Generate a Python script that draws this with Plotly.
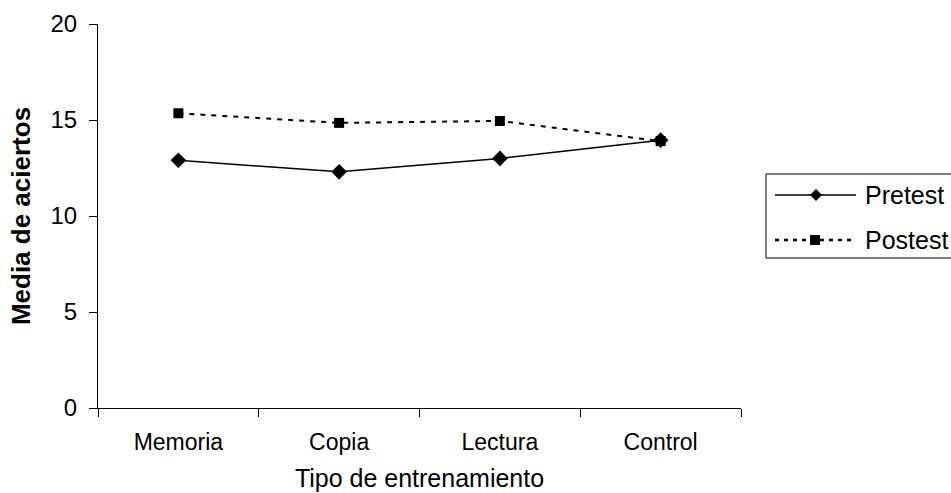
import plotly.graph_objects as go

# Mean correct answers per training type, before and after training
categories = ["Memoria", "Copia", "Lectura", "Control"]
pretest = [12.9, 12.3, 13.0, 13.95]
postest = [15.35, 14.85, 14.95, 13.9]
y_ticks = [0, 5, 10, 15, 20]

FONT = "Liberation Sans, Arial, sans-serif"

fig = go.Figure()
fig.add_trace(go.Scatter(
    x=categories, y=pretest, name="Pretest", mode="lines+markers",
    line=dict(color="black", width=1.5),
    marker=dict(symbol="diamond", size=12, color="black"),
))
fig.add_trace(go.Scatter(
    x=categories, y=postest, name="Postest", mode="lines+markers",
    line=dict(color="black", width=2, dash="5px,6px"),
    marker=dict(symbol="square", size=10, color="black"),
))

# Hand-built legend box with long sample lines
L, R, T, B = 98, 741, 24, 408
W, H = R - L, B - T


def px(x):
    return (x - L) / W


def py(y):
    return (B - y) / H


shapes = [
    dict(type="rect", xref="paper", yref="paper",
         x0=px(766), x1=px(960), y0=py(258), y1=py(174),
         line=dict(color="black", width=1), fillcolor="white", layer="above"),
    dict(type="line", xref="paper", yref="paper",
         x0=px(775), x1=px(856), y0=py(195), y1=py(195),
         line=dict(color="black", width=1.5)),
    dict(type="line", xref="paper", yref="paper",
         x0=px(775), x1=px(856), y0=py(240), y1=py(240),
         line=dict(color="black", width=2.5, dash="4px,5px")),
    dict(type="path", xref="paper", yref="paper",
         xsizemode="pixel", ysizemode="pixel",
         xanchor=px(816), yanchor=py(195),
         path="M 0 6 L 6 0 L 0 -6 L -6 0 Z",
         fillcolor="black", line=dict(width=0)),
    dict(type="rect", xref="paper", yref="paper",
         xsizemode="pixel", ysizemode="pixel",
         xanchor=px(815), yanchor=py(240),
         x0=-5, x1=5, y0=-5, y1=5,
         fillcolor="black", line=dict(width=0)),
]
annotations = [
    dict(text="Pretest", xref="paper", yref="paper", x=px(863), y=py(195),
         xanchor="left", yanchor="middle", showarrow=False,
         font=dict(family=FONT, size=25, color="black")),
    dict(text="Postest", xref="paper", yref="paper", x=px(863), y=py(240),
         xanchor="left", yanchor="middle", showarrow=False,
         font=dict(family=FONT, size=25, color="black")),
]

fig.update_layout(
    width=951, height=493,
    margin=dict(l=L, r=951 - R, t=T, b=493 - B),
    paper_bgcolor="white", plot_bgcolor="white",
    showlegend=False,
    font=dict(family=FONT, color="black"),
    shapes=shapes, annotations=annotations,
    xaxis=dict(
        type="category", range=[-0.5, 3.5], tickson="boundaries",
        automargin=False,
        showline=True, linecolor="black", linewidth=1,
        ticks="outside", ticklen=8, tickcolor="black", tickwidth=1,
        showgrid=False, zeroline=False,
        tickfont=dict(size=23), ticklabelstandoff=13,
        title=dict(text="Tipo de entrenamiento", font=dict(size=25), standoff=15),
    ),
    yaxis=dict(
        range=[0, 20], tickvals=y_ticks,
        automargin=False,
        showline=True, linecolor="black", linewidth=1,
        ticks="outside", ticklen=8, tickcolor="black", tickwidth=1,
        showgrid=False, zeroline=False,
        tickfont=dict(size=24), ticklabelstandoff=7,
        title=dict(text="<b>Media de aciertos</b>", font=dict(size=26), standoff=12),
    ),
)

fig.write_html("out.html")
